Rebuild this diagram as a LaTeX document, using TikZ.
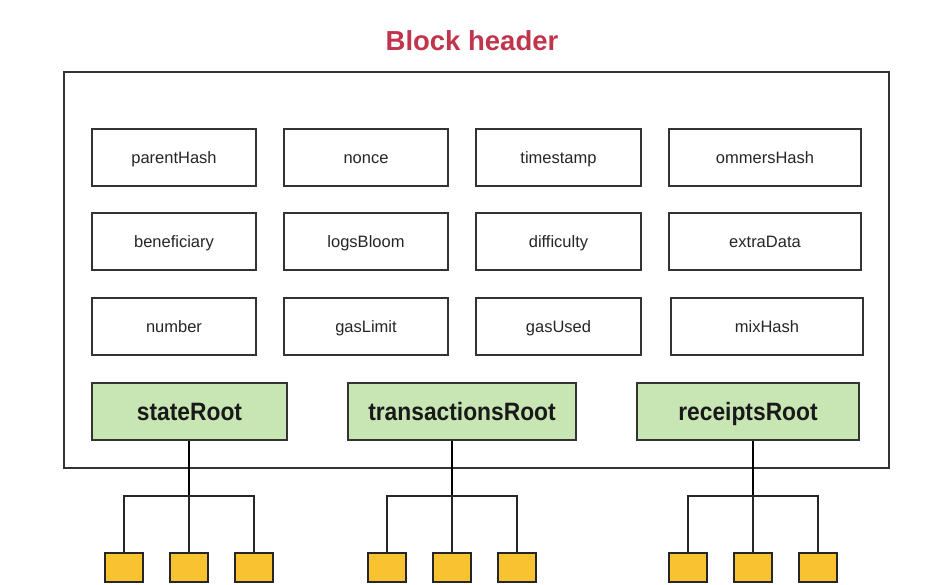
\documentclass[tikz,border=0pt]{standalone}
\usepackage{fontspec}
\usepackage{graphicx}
\setmainfont{Liberation Sans}
\newcommand{\tallr}[1]{\scalebox{1}[1.1]{#1}}
\begin{document}
\begin{tikzpicture}[x=1pt,y=-1pt,
  field/.style={draw=black!80,line width=1.6pt,fill=white,font=\fontsize{16.5}{18}\selectfont,text=black!85,text height=11.8pt,text depth=0pt,inner sep=0pt,minimum height=57pt},
  rootbox/.style={draw=black!80,line width=1.6pt,fill=rootgreen,font=\bfseries\fontsize{22.8}{24}\selectfont,text=black!90,text height=18pt,text depth=0pt,inner sep=0pt,minimum height=57pt},
  leaf/.style={draw=black!85,line width=1.6pt,fill=leafyellow,minimum width=38pt,minimum height=29pt,inner sep=0pt},
  conn/.style={draw=black!85,line width=1.6pt},
  trunk/.style={draw=black,line width=2.4pt}]
\definecolor{rootgreen}{HTML}{C8E6B4}
\definecolor{leafyellow}{HTML}{F9C231}
\definecolor{titlered}{HTML}{C0354B}
\useasboundingbox (0,0) rectangle (926,585);
\fill[white] (0,0) rectangle (926,585);
\node[font=\bfseries\fontsize{27.5}{30}\selectfont,text=titlered,text height=19pt,text depth=0pt,inner sep=0pt] (title) at (472,41) {Block header};
\draw[draw=black!80,line width=1.6pt] (64,72) rectangle (889,468);
% fields
\newcommand{\fld}[5]{\node[field,minimum width=#4pt] (#1) at (#2,#3) {#5};}
\fld{parentHash}{174}{157.5}{164}{parentHash}
\fld{nonce}{366}{157.5}{164}{nonce}
\fld{timestamp}{558.5}{157.5}{165}{timestamp}
\fld{ommersHash}{765}{157.5}{192}{ommersHash}
\fld{beneficiary}{174}{241.5}{164}{beneficiary}
\fld{logsBloom}{366}{241.5}{164}{logsBloom}
\fld{difficulty}{558.5}{241.5}{165}{difficulty}
\fld{extraData}{765}{241.5}{192}{extraData}
\fld{number}{174}{326.5}{164}{number}
\fld{gasLimit}{366}{326.5}{164}{gasLimit}
\fld{gasUsed}{558.5}{326.5}{165}{gasUsed}
\fld{mixHash}{767}{326.5}{192}{mixHash}
% roots
\node[rootbox,minimum width=195pt] (stateRoot) at (189.5,411.5) {\tallr{stateRoot}};
\node[rootbox,minimum width=228pt] (txRoot) at (462,411.5) {\tallr{transactionsRoot}};
\node[rootbox,minimum width=222pt] (rcRoot) at (748,411.5) {\tallr{receiptsRoot}};
% leaves
\node[leaf] (s1) at (124,567.5) {};
\node[leaf] (s2) at (189,567.5) {};
\node[leaf] (s3) at (254,567.5) {};
\node[leaf] (t1) at (387,567.5) {};
\node[leaf] (t2) at (452,567.5) {};
\node[leaf] (t3) at (517,567.5) {};
\node[leaf] (r1) at (688,567.5) {};
\node[leaf] (r2) at (753,567.5) {};
\node[leaf] (r3) at (818,567.5) {};
% junctions
\coordinate (sj) at (189,496);
\coordinate (tj) at (452,496);
\coordinate (rj) at (753,496);
\draw[trunk] (stateRoot.south -| sj) -- (sj);
\draw[trunk] (txRoot.south -| tj) -- (tj);
\draw[trunk] (rcRoot.south -| rj) -- (rj);
\draw[conn] (s1.north) |- (sj) -| (s3.north);
\draw[conn] (sj) -- (s2.north);
\draw[conn] (t1.north) |- (tj) -| (t3.north);
\draw[conn] (tj) -- (t2.north);
\draw[conn] (r1.north) |- (rj) -| (r3.north);
\draw[conn] (rj) -- (r2.north);
\end{tikzpicture}
\end{document}
